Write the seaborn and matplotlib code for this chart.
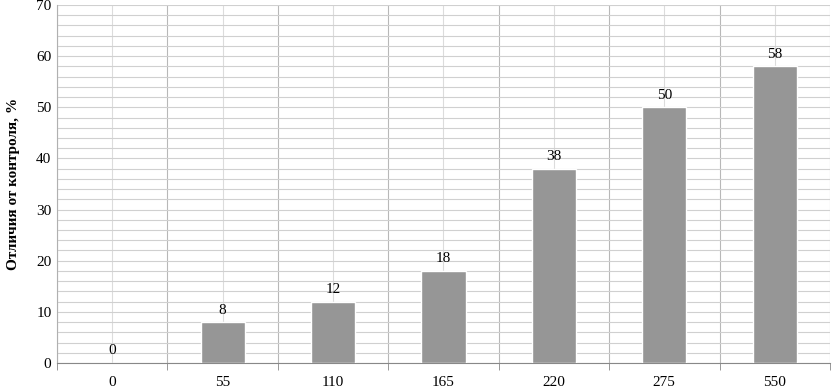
import matplotlib.pyplot as plt
import seaborn as sns
import pandas as pd
import numpy as np
from matplotlib.ticker import MultipleLocator, FixedLocator

doses = ["0", "55", "110", "165", "220", "275", "550"]
values = [0, 8, 12, 18, 38, 50, 58]

sns.set_style("white")
plt.rcParams['font.family'] = ['Liberation Serif', 'DejaVu Serif']
plt.rcParams['text.color'] = 'black'
plt.rcParams['xtick.color'] = 'black'
plt.rcParams['ytick.color'] = 'black'
plt.rcParams['axes.labelcolor'] = 'black'

df = pd.DataFrame({"dose": doses, "value": values})

fig = plt.figure(figsize=(8.32, 3.87), dpi=100)
ax = fig.add_axes([0.0685, 0.062, 0.929, 0.925])

sns.barplot(data=df, x="dose", y="value", order=doses, color="#969696",
            saturation=1, width=0.4, ax=ax, zorder=3)

ax.set_ylim(0, 70)
ax.set_xlim(-0.5, len(doses) - 0.5)
ax.yaxis.set_major_locator(MultipleLocator(10))
ax.yaxis.set_minor_locator(MultipleLocator(2))
ax.grid(axis="y", which="both", color="#d0d0d0", lw=0.8, zorder=0)

# vertical lines at category centers and boundaries
bounds = np.arange(-0.5, len(doses), 1.0)
for i in range(len(doses)):
    ax.axvline(i, color="#dcdcdc", lw=0.8, zorder=0)
for b in bounds:
    ax.axvline(b, color="#b8b8b8", lw=0.8, zorder=0)
ax.xaxis.set_minor_locator(FixedLocator(bounds))

for c in ax.containers:
    ax.bar_label(c, labels=[str(v) for v in values], padding=4, fontsize=11)

for s in ["top", "right"]:
    ax.spines[s].set_visible(False)
ax.spines["left"].set_color("#b0b0b0")
ax.spines["bottom"].set_color("#888888")

ax.tick_params(axis="x", which="major", length=0, pad=9, labelsize=11)
ax.tick_params(axis="x", which="minor", length=5, color="#888888", bottom=True)
ax.tick_params(axis="y", which="major", length=4, color="#888888", labelsize=11, pad=4, direction="in")
ax.tick_params(axis="y", which="minor", length=0)
ax.set_xlabel("")
ax.set_ylabel("Отличия от контроля, %", fontsize=11, fontweight="bold", labelpad=12)

fig.savefig("out.png", dpi=100)
